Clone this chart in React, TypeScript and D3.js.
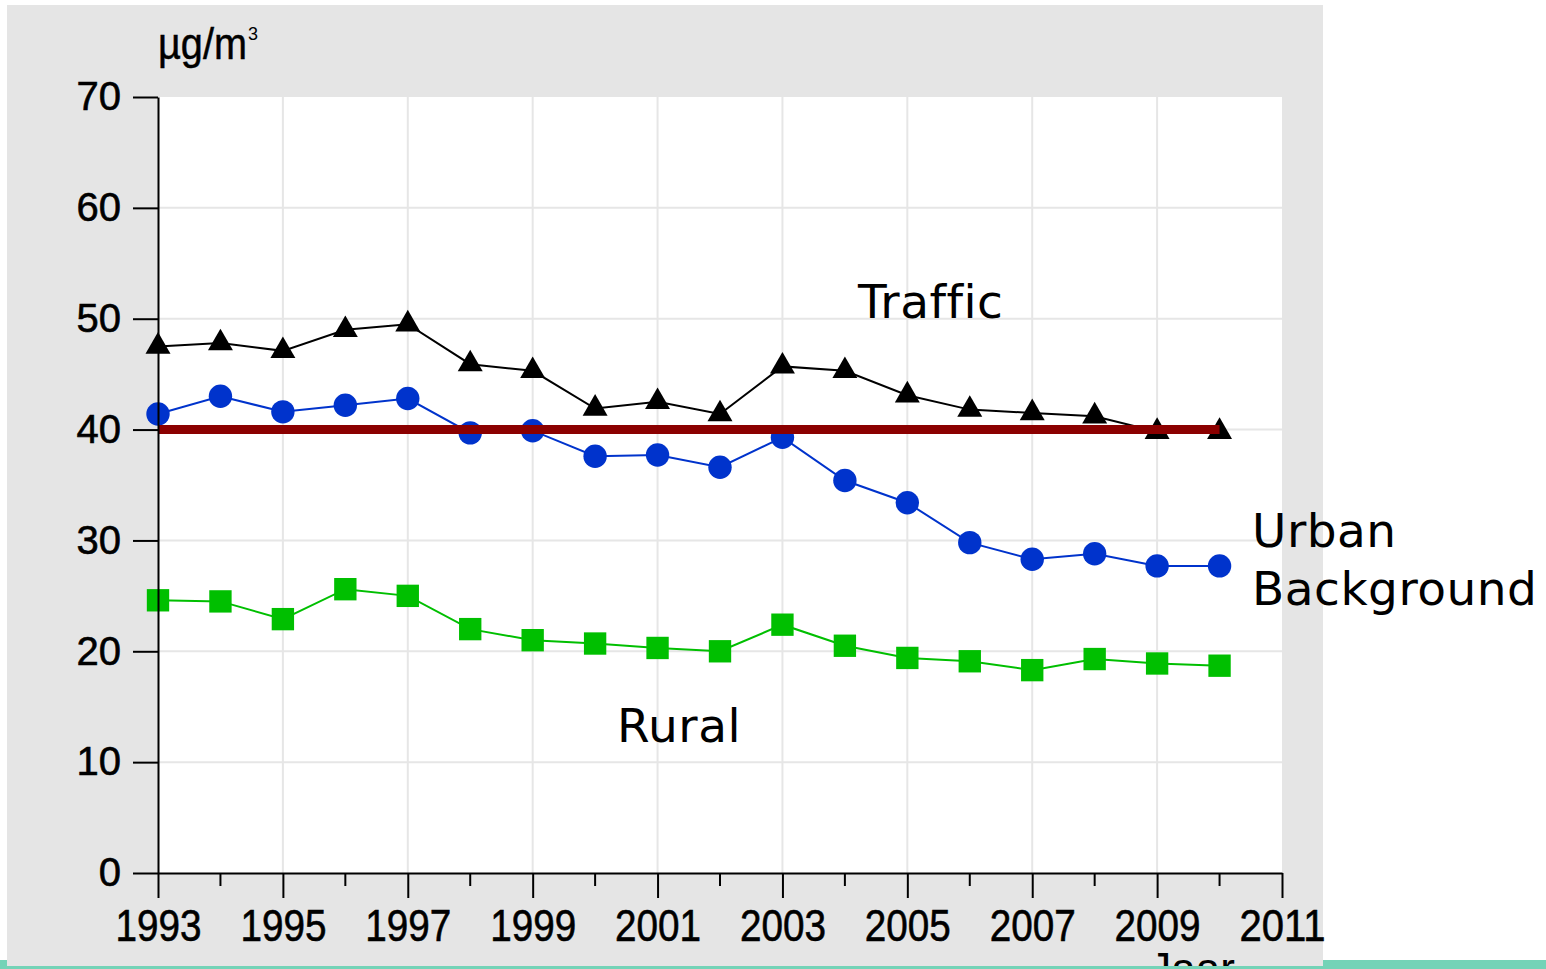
import * as d3 from "d3"
import { useEffect, useRef } from "react"

// NO2 annual mean concentrations (µg/m³)
const years = [1993, 1994, 1995, 1996, 1997, 1998, 1999, 2000, 2001, 2002, 2003, 2004, 2005, 2006, 2007, 2008, 2009, 2010]
const traffic = [47.5, 47.8, 47.1, 49.0, 49.5, 45.9, 45.3, 41.9, 42.5, 41.4, 45.7, 45.3, 43.1, 41.8, 41.5, 41.2, 39.8, 39.8]
const urbanBackground = [41.4, 43.0, 41.6, 42.2, 42.8, 39.7, 39.9, 37.6, 37.7, 36.6, 39.3, 35.4, 33.4, 29.8, 28.3, 28.8, 27.7, 27.7]
const rural = [24.6, 24.5, 22.9, 25.6, 25.0, 22.0, 21.0, 20.7, 20.3, 20.0, 22.4, 20.5, 19.4, 19.1, 18.3, 19.3, 18.9, 18.7]
const limitValue = 40

const yTicks = [0, 10, 20, 30, 40, 50, 60, 70]
const xTicks = [1993, 1995, 1997, 1999, 2001, 2003, 2005, 2007, 2009, 2011]
const xMinorTicks = [1994, 1996, 1998, 2000, 2002, 2004, 2006, 2008, 2010]

const App = () => {
  const svgRef = useRef<SVGSVGElement | null>(null)

  useEffect(() => {
    if (!svgRef.current) return
    const root = d3.select(svgRef.current)
    root.selectAll("*").remove()

    const W = 1546
    const H = 969
    const plot = { left: 158, top: 97, right: 1282, bottom: 873 }
    const tickFont = "'Liberation Sans', Arial, sans-serif"

    const x = d3.scaleLinear().domain([1993, 2011]).range([plot.left, plot.right])
    const y = d3.scaleLinear().domain([0, 70]).range([plot.bottom, plot.top])

    // Background pieces
    root.append("rect").attr("width", W).attr("height", H).attr("fill", "#ffffff")
    root.append("rect").attr("x", 0).attr("y", 960).attr("width", W).attr("height", 9).attr("fill", "#74d3b7")
    root.append("rect").attr("x", 7).attr("y", 5).attr("width", 1316).attr("height", 961).attr("fill", "#e5e5e5")
    root
      .append("rect")
      .attr("x", plot.left)
      .attr("y", plot.top)
      .attr("width", plot.right - plot.left)
      .attr("height", plot.bottom - plot.top)
      .attr("fill", "#ffffff")

    // Gridlines
    const grid = root.append("g").attr("stroke", "#e6e6e6").attr("stroke-width", 2)
    grid
      .selectAll(".vgrid")
      .data(xTicks.filter(d => d !== 1993 && d !== 2011))
      .enter()
      .append("line")
      .attr("x1", d => x(d))
      .attr("x2", d => x(d))
      .attr("y1", plot.top)
      .attr("y2", plot.bottom)
    grid
      .selectAll(".hgrid")
      .data(yTicks.filter(d => d !== 0 && d !== 70))
      .enter()
      .append("line")
      .attr("x1", plot.left)
      .attr("x2", plot.right)
      .attr("y1", d => y(d))
      .attr("y2", d => y(d))

    // Series
    const line = d3
      .line<number>()
      .x((_d, i) => x(years[i]))
      .y(d => y(d))

    const series = [
      { values: rural, color: "#00bf00", symbol: d3.symbolSquare, size: 500 },
      { values: urbanBackground, color: "#0033cc", symbol: d3.symbolCircle, size: 430 },
      { values: traffic, color: "#000000", symbol: d3.symbolTriangle, size: 270 },
    ]

    series.forEach(s => {
      root
        .append("path")
        .datum(s.values)
        .attr("fill", "none")
        .attr("stroke", s.color)
        .attr("stroke-width", 2)
        .attr("d", line)
      root
        .append("g")
        .selectAll("path")
        .data(s.values)
        .enter()
        .append("path")
        .attr("transform", (d, i) => `translate(${x(years[i])},${y(d)})`)
        .attr("d", d3.symbol().type(s.symbol).size(s.size)())
        .attr("fill", s.color)
    })

    // Limit value line
    root
      .append("line")
      .attr("x1", x(years[0]))
      .attr("x2", x(years[years.length - 1]))
      .attr("y1", y(limitValue))
      .attr("y2", y(limitValue))
      .attr("stroke", "#8b0000")
      .attr("stroke-width", 9)

    // Axes
    const yAxis = root
      .append("g")
      .attr("transform", `translate(${plot.left},0)`)
      .call(d3.axisLeft(y).tickValues(yTicks).tickSize(25).tickSizeOuter(0).tickPadding(12))
    yAxis.select(".domain").attr("stroke", "#000").attr("stroke-width", 2)
    yAxis.selectAll(".tick line").attr("stroke", "#000").attr("stroke-width", 2)
    yAxis
      .selectAll(".tick text")
      .attr("fill", "#000")
      .attr("stroke", "#000")
      .attr("stroke-width", 0.6)
      .style("font-family", tickFont)
      .style("font-size", "40px")

    const xAxis = root
      .append("g")
      .attr("transform", `translate(0,${plot.bottom})`)
      .call(
        d3
          .axisBottom(x)
          .tickValues(xTicks)
          .tickFormat(d3.format("d"))
          .tickSize(25)
          .tickSizeOuter(0)
          .tickPadding(12)
      )
    xAxis.select(".domain").attr("stroke", "#000").attr("stroke-width", 2)
    xAxis.selectAll(".tick line").attr("stroke", "#000").attr("stroke-width", 2)
    xAxis
      .selectAll(".tick text")
      .attr("fill", "#000")
      .attr("stroke", "#000")
      .attr("stroke-width", 0.6)
      .attr("textLength", 86)
      .attr("lengthAdjust", "spacingAndGlyphs")
      .style("font-family", tickFont)
      .style("font-size", "44px")

    root
      .append("g")
      .selectAll("line")
      .data(xMinorTicks)
      .enter()
      .append("line")
      .attr("x1", d => x(d))
      .attr("x2", d => x(d))
      .attr("y1", plot.bottom)
      .attr("y2", plot.bottom + 13)
      .attr("stroke", "#000")
      .attr("stroke-width", 2)

    // Unit label
    const unit = root
      .append("text")
      .attr("x", 158)
      .attr("y", 59)
      .attr("fill", "#000")
      .attr("stroke", "#000")
      .attr("stroke-width", 0.5)
      .style("font-family", tickFont)
      .style("font-size", "44px")
    unit.append("tspan").attr("textLength", 89).attr("lengthAdjust", "spacingAndGlyphs").text("µg/m")
    unit.append("tspan").attr("dx", 1).attr("dy", -19).style("font-size", "18px").attr("stroke-width", 0).text("3")

    // Axis title, cut off by the bottom strip
    root
      .append("text")
      .attr("x", 1192)
      .attr("y", 984)
      .attr("text-anchor", "middle")
      .style("font-family", tickFont)
      .style("font-size", "44px")
      .text("Jaar")
    root.append("rect").attr("x", 0).attr("y", 966).attr("width", W).attr("height", 3).attr("fill", "#74d3b7")

    // Series labels
    const labelFont = "'DejaVu Sans', Verdana, sans-serif"
    const labels = [
      { text: "Traffic", x: 858, y: 318 },
      { text: "Urban", x: 1252, y: 547 },
      { text: "Background", x: 1252, y: 605 },
      { text: "Rural", x: 617, y: 742 },
    ]
    root
      .append("g")
      .selectAll("text")
      .data(labels)
      .enter()
      .append("text")
      .attr("x", d => d.x)
      .attr("y", d => d.y)
      .style("font-family", labelFont)
      .style("font-size", "47px")
      .style("font-variant-ligatures", "none")
      .style("letter-spacing", "0.5px")
      .attr("fill", "#000")
      .text(d => d.text)
  }, [])

  return (
    <svg
      ref={svgRef}
      width={1546}
      height={969}
      style={{ position: "absolute", left: 0, top: 0, display: "block" }}
    />
  )
}

export default App
